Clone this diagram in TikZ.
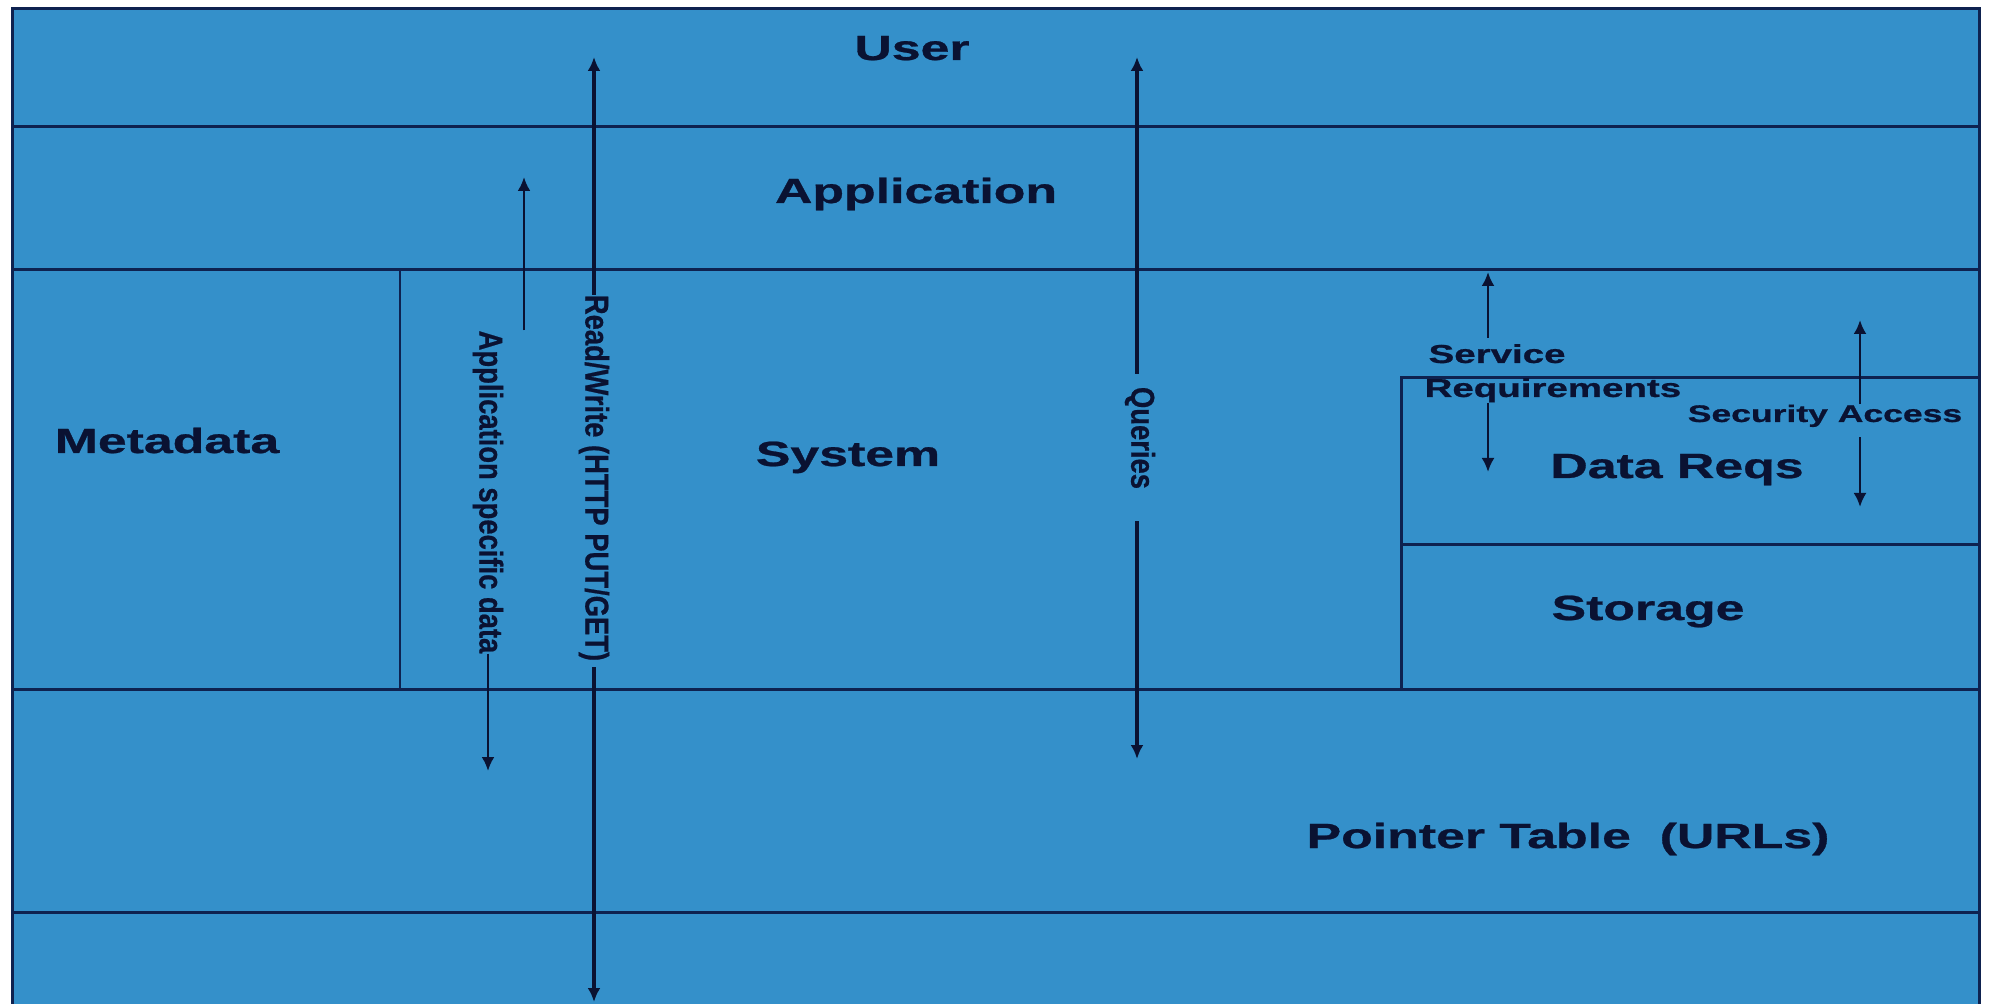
\documentclass[tikz,border=0pt]{standalone}
\usepackage{fontspec}
\setmainfont{Liberation Sans}[BoldFeatures={FakeBold=0.7}]
\usetikzlibrary{arrows.meta}
\definecolor{panel}{RGB}{52,144,202}
\definecolor{rule}{RGB}{14,34,80}
\definecolor{ink}{RGB}{10,18,50}
\begin{document}
\begin{tikzpicture}[x=0.5pt,y=-0.5pt,
  rulestroke/.style={draw=rule,line width=1.5pt},
  biglabel/.style={font=\bfseries\fontsize{17.5pt}{21pt}\selectfont,text=ink,
    xscale=1.48,inner sep=0pt,anchor=base},
  smalllabel/.style={font=\bfseries\fontsize{13pt}{15pt}\selectfont,text=ink,
    xscale=1.48,inner sep=0pt},
  vlabel/.style={font=\bfseries\fontsize{16.5pt}{20pt}\selectfont,text=ink,
    rotate=-90,xscale=0.83,inner sep=0pt,anchor=center},
  flow/.style={draw=ink,line width=1.3pt,-{Latex[length=7pt,width=6.5pt]}},
  heavyflow/.style={flow,line width=1.7pt}]
\useasboundingbox (0,0) rectangle (1990,1004);
\clip (0,0) rectangle (1990,1004);
\fill[white] (0,0) rectangle (1990,1004);

% layered panel
\draw[rulestroke,fill=panel] (12,9) rectangle (1979,1040);
\draw[rulestroke] (12,127) -- (1979,127);
\draw[rulestroke] (12,270) -- (1979,270);
\draw[rulestroke] (12,689) -- (1979,689);
\draw[rulestroke] (12,912) -- (1979,912);
\draw[draw=rule,line width=1.1pt] (400,270) -- (400,689);
\draw[rulestroke] (1401,689) -- (1401,378) -- (1979,378);
\draw[rulestroke] (1401,545) -- (1979,545);

% layer names
\node[biglabel] (user) at (912,60) {User};
\node[biglabel] (app) at (916,203) {Application};
\node[biglabel] (meta) at (167,453) {Metadata};
\node[biglabel] (sys) at (848,466) {System};
\node[biglabel] (dreq) at (1677,478) {Data Reqs};
\node[biglabel] (stor) at (1648,620) {Storage};
\node[biglabel] (ptab) at (1568,848) {Pointer Table\ \ (URLs)};

% vertical flow labels
\node[vlabel] (rw) at (594,478) {Read/Write (HTTP PUT/GET)};
\node[vlabel] (asd) at (488,492) {Application specific data};
\node[vlabel] (qry) at (1140,438) {Queries};

% side labels
\node[smalllabel,anchor=base west] (svcA) at (1428,363) {Service};
\node[smalllabel,anchor=base west] (svcB) at (1424,397) {Requirements};
\node[smalllabel,font=\bfseries\fontsize{12pt}{14pt}\selectfont,anchor=base]
  (sec) at (1825,422) {Security Access};

% arrow tips
\coordinate (rwTop) at (594,57);
\coordinate (rwBot) at (594,1002);
\coordinate (asdTop) at (524,177);
\coordinate (asdBot) at (488,771);
\coordinate (qTop) at (1137,57);
\coordinate (qBot) at (1137,759);
\coordinate (sTop) at (1488,272);
\coordinate (sBot) at (1488,472);
\coordinate (secTop) at (1860,320);
\coordinate (secBot) at (1860,507);

% connectors
\draw[heavyflow] (rw.west) -- (rwTop);
\draw[heavyflow,shorten <=3pt] (rw.east) -- (rwBot);
\draw[flow] (asd.west -| asdTop) -- (asdTop);
\draw[flow] (asd.east) -- (asdBot);
\draw[heavyflow,shorten <=6.5pt] (qry.west -| qTop) -- (qTop);
\draw[heavyflow,shorten <=16pt] (qry.east -| qBot) -- (qBot);
\draw[flow,shorten <=3pt] (svcA.north -| sTop) -- (sTop);
\draw[flow] (svcB.south -| sBot) -- (sBot);
\draw[flow] (sec.north -| secTop) -- (secTop);
\draw[flow,shorten <=5pt] (sec.south -| secBot) -- (secBot);
\end{tikzpicture}
\end{document}
